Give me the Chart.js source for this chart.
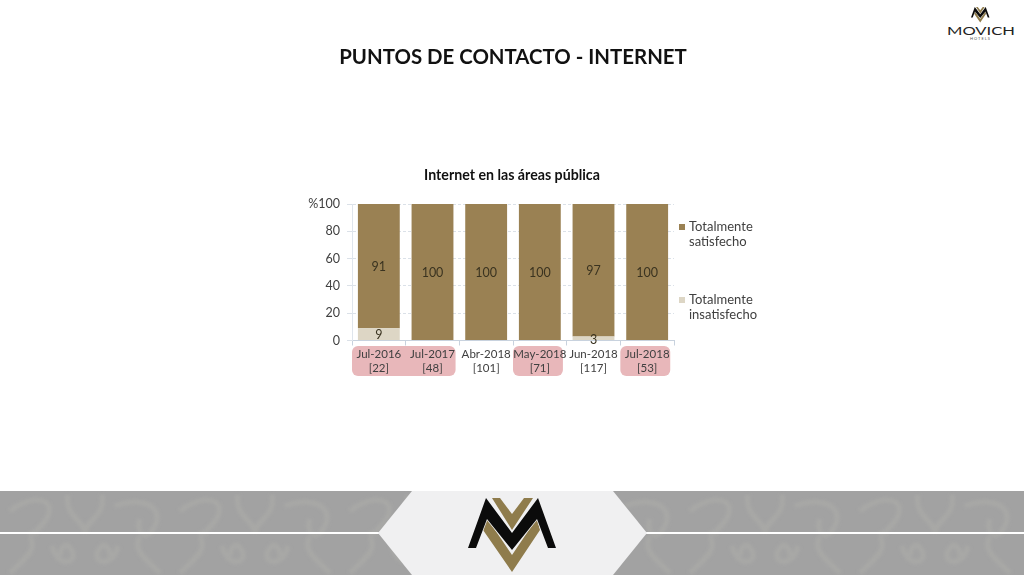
<!DOCTYPE html>
<html>
<head>
<meta charset="utf-8">
<title>Puntos de contacto - Internet</title>
<script src="https://cdn.jsdelivr.net/npm/chart.js@4"></script>
<style>
  html, body { margin: 0; padding: 0; background: #fff; }
  #page { position: relative; width: 1024px; height: 576px; overflow: hidden; font-family: Lato, sans-serif; }
  #myChart { position: absolute; left: 0; top: 0; }
  #heading { position: absolute; left: 0; width: 1026px; top: 41px; text-align: center; font-size: 20.4px; font-weight: 700; color: #111; line-height: 30px; }
  svg { position: absolute; left: 0; top: 0; }
</style>
</head>
<body>
<div id="page">
  <!-- footer band, hexagon and logos -->
  <svg width="1024" height="576">
    <defs>
      <filter id="soft"><feGaussianBlur stdDeviation="1.5"/></filter>
      <pattern id="damask" x="0" y="491" width="170" height="85" patternUnits="userSpaceOnUse">
        <g fill="none" stroke="#a8a8a6" stroke-width="5" filter="url(#soft)">
          <path d="M10 20C35 0 60 10 45 30S25 40 38 42"/>
          <path d="M68 4C64 25 85 30 85 42C85 30 106 25 102 4"/>
          <path d="M115 15C140 5 165 15 155 35S135 38 140 28"/>
          <path d="M52 55C58 78 78 72 72 60S60 58 60 65"/>
          <path d="M118 55C112 78 92 72 98 60S110 58 110 65"/>
          <path d="M10 82C25 68 38 58 30 46"/>
          <path d="M160 82C145 68 132 58 140 46"/>
        </g>
      </pattern>
      <g id="mark">
        <polygon points="487,518 483,530 512,572 540,530 537,518 512,555" fill="#8f7c4c"/>
        <polygon points="492,498 500,498 512,514 524,498 533,498 512,530" fill="#8f7c4c"/>
        <polygon points="468,548 486,498 512,533 538,498 556,548 548,548 537,519 512,550 487,519 476,548" fill="#0b0b0b" stroke="#f0f0f1" stroke-width="1.4" paint-order="stroke"/>
      </g>
    </defs>
    <rect x="0" y="491" width="1024" height="84" fill="#a2a2a2"/>
    <rect x="0" y="491" width="1024" height="84" fill="url(#damask)"/>
    <rect x="0" y="532" width="1024" height="2" fill="#fff"/>
    <polygon points="412,491 613,491 647,533 613,575 412,575 378,533" fill="#f0f0f1"/>
    <use href="#mark"/>
    <use href="#mark" transform="translate(971 7) scale(.21) translate(-468 -498)"/>
    <text x="947" y="35" font-size="12" fill="#222" textLength="68" lengthAdjust="spacingAndGlyphs" font-family="Lato, sans-serif">MOVICH</text>
    <text x="970" y="40" font-size="4" fill="#555" textLength="20" font-family="Lato, sans-serif">HOTELS</text>
  </svg>
  <canvas id="myChart" width="1024" height="576"></canvas>
  <div id="heading">PUNTOS DE CONTACTO - INTERNET</div>
</div>

<script>
// Chart values
var periods = ["Jul-2016", "Jul-2017", "Abr-2018", "May-2018", "Jun-2018", "Jul-2018"];
var samples = ["[22]", "[48]", "[101]", "[71]", "[117]", "[53]"];
var satisfied = [91, 100, 100, 100, 97, 100];
var unsatisfied = [9, 0, 0, 0, 3, 0];
var yTicks = [0, 20, 40, 60, 80, 100];
var chartTitle = "Internet en las áreas pública";
var satisfiedLabel = ["Totalmente", "satisfecho"];
var unsatisfiedLabel = ["Totalmente", "insatisfecho"];
// runs of categories with a pink label behind them
var highlighted = [[0, 1], [3, 3], [5, 5]];

var textColor = "#404040";
var fontFamily = "Lato, sans-serif";
var brown = "#9a8153";
var beige = "#ddd6c5";

var labels = periods.map(function (p, i) {
    return [p, samples[i]];
});

// Pink rounded boxes behind the category labels
var labelBoxes = {
    id: "labelBoxes",
    beforeDraw: function (chart) {
        var ctx = chart.ctx;
        var x = chart.scales.x;
        var step = x.getPixelForValue(1) - x.getPixelForValue(0);
        ctx.save();
        ctx.fillStyle = "#e8b7ba";
        highlighted.forEach(function (run) {
            var left = x.getPixelForValue(run[0]) - step * 0.5;
            var right = x.getPixelForValue(run[1]) + step * 0.43;
            ctx.beginPath();
            ctx.roundRect(left, 346, right - left, 30, 6);
            ctx.fill();
        });
        ctx.restore();
    },
};

// Values in the middle of each segment
var segmentLabels = {
    id: "segmentLabels",
    afterDatasetsDraw: function (chart) {
        var ctx = chart.ctx;
        ctx.save();
        ctx.font = "12.5px " + fontFamily;
        ctx.fillStyle = "#3a3320";
        ctx.textAlign = "center";
        ctx.textBaseline = "middle";
        chart.data.datasets.forEach(function (ds, d) {
            chart.getDatasetMeta(d).data.forEach(function (bar, i) {
                if (!ds.data[i]) return;
                var mid = (bar.y + bar.base) / 2;
                ctx.fillText(ds.data[i], bar.x, ds.data[i] < 5 ? mid + 1.5 : mid + 1);
            });
        });
        ctx.restore();
    },
};

// Chart title and the legend on the right, two lines per entry
var sideLegend = {
    id: "sideLegend",
    afterDraw: function (chart) {
        var ctx = chart.ctx;
        var entries = [
            { color: brown, text: satisfiedLabel, y: 227 },
            { color: beige, text: unsatisfiedLabel, y: 300 },
        ];
        ctx.save();
        ctx.textBaseline = "middle";
        ctx.font = "bold 14.2px " + fontFamily;
        ctx.fillStyle = "#111";
        ctx.textAlign = "center";
        ctx.fillText(chartTitle, 512, 175);
        ctx.textAlign = "left";
        ctx.font = "13px " + fontFamily;
        entries.forEach(function (e) {
            ctx.fillStyle = e.color;
            ctx.fillRect(679, e.y - 3, 6, 6);
            ctx.fillStyle = textColor;
            ctx.fillText(e.text[0], 689, e.y);
            ctx.fillText(e.text[1], 689, e.y + 15);
        });
        ctx.restore();
    },
};

var ctx1 = document.getElementById("myChart").getContext("2d");

var myChart = new Chart(ctx1, {
    type: "bar",
    data: {
        labels: labels,
        datasets: [
            { label: unsatisfiedLabel.join(" "), data: unsatisfied, backgroundColor: beige, borderWidth: 0 },
            { label: satisfiedLabel.join(" "), data: satisfied, backgroundColor: brown, borderWidth: 0 },
        ],
    },
    options: {
        responsive: false,
        animation: false,
        layout: { padding: { left: 301, right: 350, top: 204, bottom: 199.5 } },
        datasets: { bar: { barPercentage: 1, categoryPercentage: 0.78 } },
        plugins: {
            legend: { display: false },
            tooltip: { enabled: false },
        },
        scales: {
            x: {
                stacked: true,
                afterFit: function (scale) { scale.height = 36; },
                grid: { drawOnChartArea: false, tickLength: 5, color: "#c8d2de" },
                border: { color: "#c8d2de" },
                ticks: { color: textColor, font: { family: fontFamily, size: 11.5, lineHeight: 1.2 }, padding: 2, maxRotation: 0, autoSkip: false },
            },
            y: {
                stacked: true,
                min: 0,
                max: 100,
                afterFit: function (scale) { scale.width = 51; },
                afterBuildTicks: function (scale) {
                    scale.ticks = yTicks.map(function (v) { return { value: v }; });
                },
                grid: { color: "#dbe1e8", tickLength: 5 },
                border: { color: "#dfe5ec", dash: [3, 2] },
                ticks: {
                    color: textColor,
                    font: { family: fontFamily, size: 12.5 },
                    padding: 7,
                    callback: function (v) { return v === 100 ? "%" + v : v; },
                },
            },
        },
    },
    plugins: [labelBoxes, segmentLabels, sideLegend],
});
</script>
</body>
</html>
